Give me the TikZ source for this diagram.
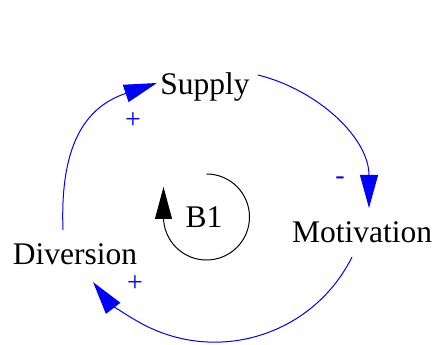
\documentclass[tikz,border=0pt]{standalone}
\usepackage{fontspec}
\setmainfont{Liberation Serif}
\usetikzlibrary{arrows.meta}
\begin{document}
\begin{tikzpicture}[x=1pt,y=1pt,
  lbl/.style={inner sep=0pt, font=\fontsize{31.5}{36}\selectfont, text=black},
  sign/.style={inner sep=0pt, font=\fontsize{28}{32}\selectfont, text=blue},
  link/.style={draw=blue, line width=1pt, -{Triangle[length=33pt,width=18pt]}, fill=none},
  looparrow/.style={draw=black, line width=1pt, -{Triangle[length=32pt,width=17pt]}}]
\useasboundingbox (0,0) rectangle (437,345);
% variables
\node[lbl, anchor=base] (supply) at (205,250) {Supply};
\node[lbl, anchor=base] (motivation) at (362,102) {Motivation};
\node[lbl, anchor=base] (diversion) at (75,80) {Diversion};
\node[lbl, anchor=base] (b1) at (204,117) {B1};
% polarity signs
\node[sign] (p1) at (133,224) {+};
\node[sign] (m1) at (340,164) {-};
\node[sign] (p2) at (135,61) {+};
% connector end points
\coordinate (sm0) at (258,270);
\coordinate (sm1) at (369,137);
\coordinate (md0) at (352,88);
\coordinate (ds0) at (63,115);
\coordinate (ds1) at (157,262);
\coordinate (loopc) at (206.5,128);
% connectors
\draw[link] (sm0) .. controls (318,255) and (369,207) .. (sm1);
\draw[link] (md0) arc[start angle=-26.4, end angle=-142.5, radius=153.3];
\draw[link] (ds0) .. controls (60,195) and (82,237) .. (ds1);
% loop marker
\draw[looparrow] ([shift={(90:43)}]loopc) arc[start angle=90,end angle=-180,radius=43] -- ++(0,30);
\end{tikzpicture}
\end{document}
